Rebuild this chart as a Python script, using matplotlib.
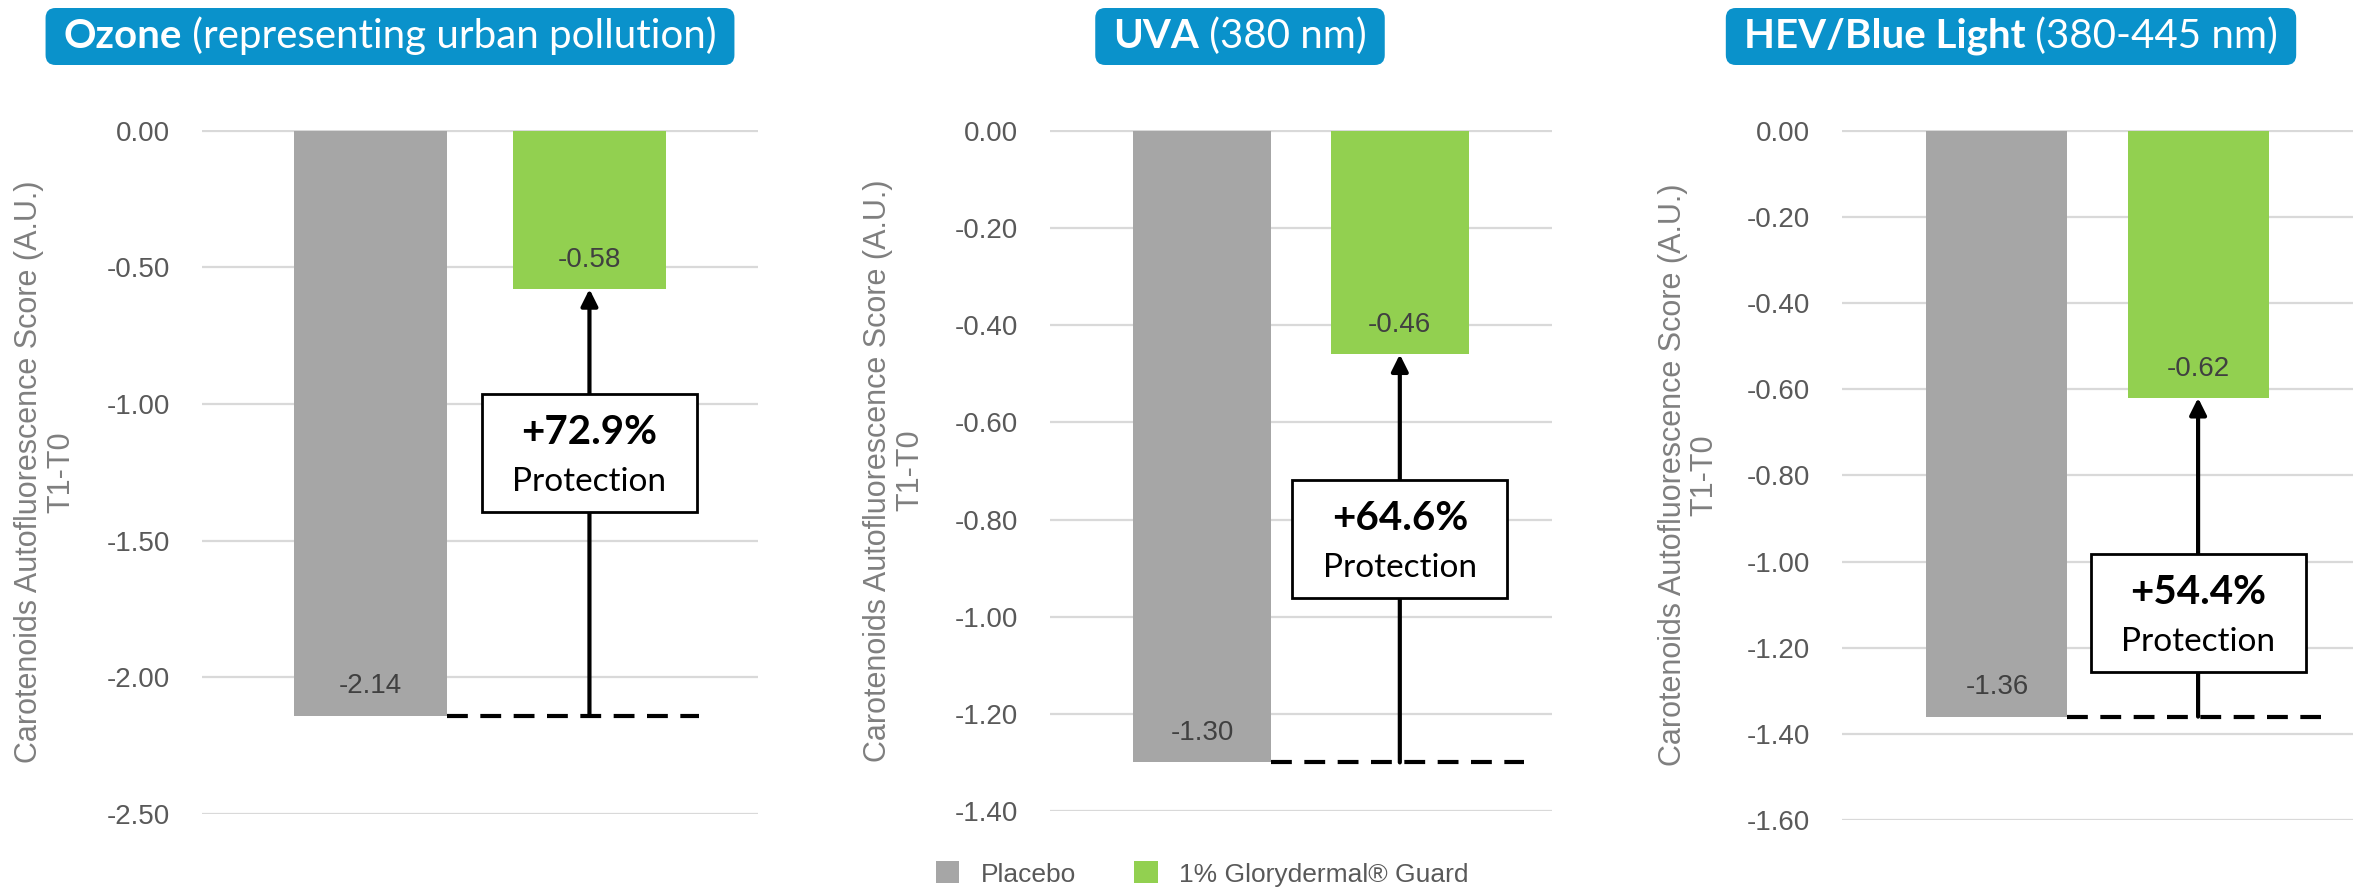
import matplotlib
matplotlib.use("Agg")
from matplotlib import pyplot as plt
from matplotlib.patches import FancyBboxPatch, Rectangle, Patch
from matplotlib.transforms import ScaledTranslation

plt.rcParams['font.family'] = ['Liberation Sans', 'DejaVu Sans']

# ---- data ----
panel_names = ["Ozone", "UVA", "HEV/Blue Light"]
panel_subtitles = ["(representing urban pollution)", "(380 nm)", "(380-445 nm)"]
groups = ["Placebo", "1% Glorydermal\u00ae Guard"]
placebo = [-2.14, -1.30, -1.36]
guard = [-0.58, -0.46, -0.62]
protection = ["+72.9%", "+64.6%", "+54.4%"]
yticks = [
    [0.0, -0.5, -1.0, -1.5, -2.0, -2.5],
    [0.0, -0.2, -0.4, -0.6, -0.8, -1.0, -1.2, -1.4],
    [0.0, -0.2, -0.4, -0.6, -0.8, -1.0, -1.2, -1.4, -1.6],
]
ylabel = "Carotenoids Autofluorescence Score (A.U.)\nT1-T0"

# ---- layout (pixels in a 2364x894 canvas) ----
W, H = 2364, 894
axes_px = [(202, 130, 758, 814), (1050, 130, 1552, 811), (1842, 130, 2353, 820)]  # l, t, r, b
title_cx = [390, 1240, 2011]
label_x = [-0.282, -0.311, -0.30]
dash_end = [1.5, 1.63, 1.61]
box_y = [-1.18, -0.84, -1.12]

gray = "#A6A6A6"
green = "#92D050"
blue = "#0A92CB"
tick_color = "#595959"

fig = plt.figure(figsize=(W / 100, H / 100), dpi=100)

for i in range(3):
    l, t, r, b = axes_px[i]
    ax = fig.add_axes([l / W, 1 - b / H, (r - l) / W, (b - t) / H])
    ax.set_xlim(-0.77, 1.77)
    ax.set_ylim(yticks[i][-1], 0.002)
    ax.set_yticks(yticks[i])
    ax.set_yticklabels([f"{v:.2f}" for v in yticks[i]])
    ax.set_xticks([])
    for s in ax.spines.values():
        s.set_visible(False)
    ax.tick_params(axis='y', length=0, pad=23, labelsize=20, labelcolor=tick_color)
    ax.grid(axis='y', color='#D9D9D9', lw=1.6)
    ax.set_axisbelow(True)

    vals = [placebo[i], guard[i]]
    ax.bar([0, 1], vals, width=0.7, color=[gray, green], zorder=2)
    for x, v in zip([0, 1], vals):
        ax.annotate(f"{v:.2f}", xy=(x, v), xytext=(0, 21), textcoords='offset points',
                    ha='center', va='center', fontsize=20, color='#404040', zorder=3)

    # dashed reference line at placebo level + arrow up to guard bar
    ax.plot([0.35, dash_end[i]], [placebo[i], placebo[i]], color='black', lw=3,
            dashes=(5, 3), zorder=3)
    ax.annotate('', xy=(1, guard[i]), xytext=(1, placebo[i]),
                arrowprops=dict(arrowstyle='-|>', lw=3, color='black',
                                mutation_scale=25, shrinkA=0, shrinkB=0), zorder=4)

    # protection box (fixed size in inches, centred on a data point)
    trans = fig.dpi_scale_trans + ScaledTranslation(1, box_y[i], ax.transData)
    ax.add_patch(Rectangle((-1.075, -0.59), 2.15, 1.18, transform=trans, facecolor='white',
                           edgecolor='black', lw=2, zorder=5, clip_on=False))
    ax.annotate(protection[i], xy=(1, box_y[i]), xytext=(0, 15), textcoords='offset points',
                ha='center', va='center', fontsize=29, fontweight='bold', family='Lato',
                color='black', zorder=6)
    ax.annotate("Protection", xy=(1, box_y[i]), xytext=(0, -21), textcoords='offset points',
                ha='center', va='center', fontsize=24, family='Lato', color='black', zorder=6)

    ax.text(label_x[i], 0.5, ylabel, transform=ax.transAxes, rotation=90, ha='center',
            va='center', fontsize=22, color='#7F7F7F', multialignment='center', linespacing=1.1)

# ---- title boxes ----
renderer = fig.canvas.get_renderer()
ty = 1 - 36 / H
for i in range(3):
    tb = fig.text(0, ty, panel_names[i], fontsize=29, fontweight='bold', color='white',
                  family='Lato', va='center', zorder=3)
    tr = fig.text(0, ty, " " + panel_subtitles[i], fontsize=29, color='white',
                  family='Lato', va='center', zorder=3)
    wb = tb.get_window_extent(renderer).width
    wr = tr.get_window_extent(renderer).width
    x0 = title_cx[i] - (wb + wr) / 2
    tb.set_x(x0 / W)
    tr.set_x((x0 + wb) / W)
    pad = 18
    box = FancyBboxPatch(((x0 - pad) / 100, (H - 65) / 100), (wb + wr + 2 * pad) / 100, 57 / 100,
                         boxstyle="round,pad=0,rounding_size=0.1", transform=fig.dpi_scale_trans,
                         facecolor=blue, edgecolor='none', zorder=2)
    fig.add_artist(box)

# ---- legend ----
handles = [Patch(facecolor=gray, label=groups[0]), Patch(facecolor=green, label=groups[1])]
leg = fig.legend(handles=handles, loc='center', bbox_to_anchor=(1202 / W, 1 - 874 / H), ncol=2,
                 frameon=False, fontsize=19, handlelength=0.9, handleheight=0.9,
                 columnspacing=2.2, handletextpad=0.8)
for txt in leg.get_texts():
    txt.set_color(tick_color)

plt.savefig("out.png", dpi=100)
